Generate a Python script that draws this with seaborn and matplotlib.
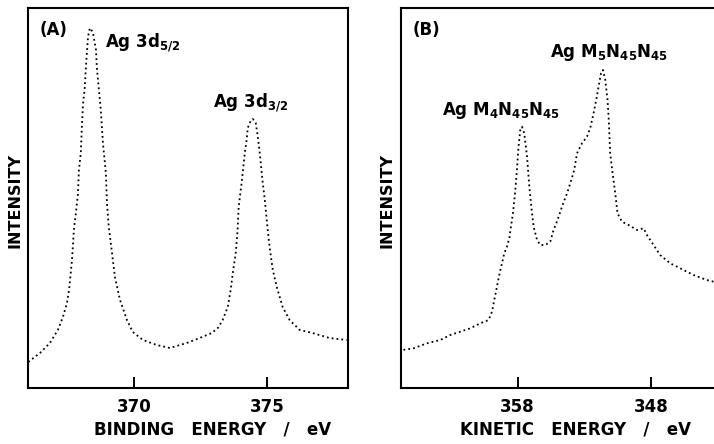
import matplotlib
matplotlib.use("Agg")
import matplotlib.pyplot as plt
import seaborn as sns
import pandas as pd

# Panel A: Ag 3d XPS
be_energy = [366.04, 366.48, 366.85, 367.15, 367.34, 367.49, 367.57, 367.68, 367.75, 367.83,
             367.90, 367.94, 368.01, 368.05, 368.09, 368.16, 368.20, 368.24, 368.28, 368.35,
             368.46, 368.58, 368.61, 368.69, 368.76, 368.84, 368.95, 368.99, 369.06, 369.18,
             369.29, 369.48, 369.74, 369.96, 370.34, 370.86, 371.35, 371.98, 372.47, 372.92,
             373.15, 373.33, 373.52, 373.63, 373.71, 373.82, 373.89, 373.93, 374.04, 374.08,
             374.16, 374.23, 374.27, 374.38, 374.46, 374.57, 374.64, 374.72, 374.83, 374.91,
             375.02, 375.09, 375.21, 375.36, 375.58, 375.84, 376.22, 376.70, 377.34, 377.98]
be_intensity = [26, 35, 45, 58, 71, 85, 98, 128, 158, 176,
                193, 218, 235, 261, 283, 301, 320, 336, 351, 360,
                356, 338, 321, 298, 278, 245, 215, 185, 161, 135,
                111, 88, 68, 56, 48, 43, 40, 45, 50, 55,
                60, 68, 81, 98, 115, 135, 158, 181, 205, 215,
                235, 248, 260, 267, 269, 265, 253, 235, 206, 188,
                158, 141, 118, 101, 81, 68, 58, 55, 50, 48]

# Panel B: Ag MNN Auger
ke_energy = [366.67, 365.80, 364.80, 363.80, 363.05, 362.30, 361.55, 360.80, 360.18, 359.92,
             359.75, 359.55, 359.35, 359.17, 359.00, 358.80, 358.62, 358.50, 358.35, 358.17,
             358.05, 357.93, 357.80, 357.67, 357.50, 357.29, 357.12, 356.97, 356.80, 356.54,
             356.30, 355.92, 355.55, 355.30, 355.00, 354.67, 354.29, 353.97, 353.75, 353.54,
             353.17, 352.79, 352.55, 352.30, 352.10, 351.92, 351.74, 351.59, 351.42, 351.25,
             351.17, 351.05, 350.87, 350.67, 350.50, 350.17, 349.67, 349.04, 348.55, 348.29,
             347.80, 347.30, 346.55, 345.80, 344.80, 343.80, 343.30]
ke_intensity = [38, 39.7, 44.7, 48, 53, 56.3, 59.7, 64.7, 68, 76.3,
                88, 101.3, 114.7, 124.7, 134.7, 141.3, 149.7, 161.3, 174.7, 198,
                218, 241.3, 258, 261.3, 254.7, 231.3, 201.3, 181.3, 161.3, 148,
                143, 143, 146.3, 158, 168, 181.3, 194.7, 208, 218, 234.7,
                244.7, 251.3, 259.7, 274.7, 288, 301.3, 314.7, 318, 308, 288,
                271.3, 234.7, 214.7, 194.7, 174.7, 166.3, 163, 158, 159.7, 153,
                143, 133, 124.7, 119.7, 113, 108, 106.3]

xticks_a = [370, 375]
xticks_b = [358, 348]

sns.set_style("white")
plt.rcParams['font.family'] = ['DejaVu Sans']
plt.rcParams['text.color'] = 'black'
plt.rcParams['axes.labelcolor'] = 'black'
plt.rcParams['xtick.color'] = 'black'
plt.rcParams['mathtext.fontset'] = 'custom'
plt.rcParams['mathtext.rm'] = 'DejaVu Sans:bold'
plt.rcParams['mathtext.it'] = 'DejaVu Sans:bold'
plt.rcParams['mathtext.bf'] = 'DejaVu Sans:bold'

W, H = 714, 444
fig = plt.figure(figsize=(W / 100, H / 100), dpi=100)

def px_axes(l, t, r, b):
    return fig.add_axes([l / W, 1 - b / H, (r - l) / W, (b - t) / H])

axA = px_axes(28, 8, 348, 388)
axB = px_axes(401, 8, 714, 388)

dfA = pd.DataFrame({"energy": be_energy, "intensity": be_intensity})
dfB = pd.DataFrame({"energy": ke_energy, "intensity": ke_intensity})

line_kw = dict(color="black", linewidth=1.3, linestyle=(0, (1, 1.7)))
sns.lineplot(data=dfA, x="energy", y="intensity", ax=axA, **line_kw)
sns.lineplot(data=dfB, x="energy", y="intensity", ax=axB, **line_kw)

axA.set_xlim(366.03, 378.03)
axB.set_xlim(366.75, 343.26)
FS = 12
for ax in (axA, axB):
    ax.set_ylim(0, 380)
    ax.set_yticks([])
    ax.set_ylabel("")
    for s in ax.spines.values():
        s.set_linewidth(1.5)
        s.set_color("black")
    ax.tick_params(axis="x", direction="in", length=8, width=1.4, top=False,
                   bottom=True, labelsize=FS, pad=7, colors="black")
axB.spines["right"].set_visible(False)

axA.set_xticks(xticks_a)
axA.set_xticklabels([str(v) for v in xticks_a], fontweight="bold")
axB.set_xticks(xticks_b)
axB.set_xticklabels([str(v) for v in xticks_b], fontweight="bold")

axA.set_xlabel("BINDING   ENERGY   /   eV", fontsize=FS, fontweight="bold", color="black")
axB.set_xlabel("KINETIC   ENERGY   /   eV", fontsize=FS, fontweight="bold", color="black")
axA.xaxis.set_label_coords((213 - 28) / 320, -0.085)
axB.xaxis.set_label_coords((575 - 401) / 313, -0.085)

for xc in (15, 387):
    fig.text(xc / W, 1 - 201 / H, "INTENSITY", rotation=90, ha="center", va="center",
             fontsize=11.5, fontweight="bold", color="black")

txt = dict(fontsize=FS, fontweight="bold", color="black", va="baseline", ha="left")
axA.text(0.035, 0.93, "(A)", transform=axA.transAxes, **txt)
axA.text(0.24, 0.895, r"Ag 3d$_{5/2}$", transform=axA.transAxes, **txt)
axA.text(0.578, 0.737, r"Ag 3d$_{3/2}$", transform=axA.transAxes, **txt)
axB.text(0.036, 0.929, "(B)", transform=axB.transAxes, **txt)
axB.text(0.476, 0.871, r"Ag M$_5$N$_{45}$N$_{45}$", transform=axB.transAxes, **txt)
axB.text(0.131, 0.718, r"Ag M$_4$N$_{45}$N$_{45}$", transform=axB.transAxes, **txt)

fig.savefig("out.png", dpi=100)
